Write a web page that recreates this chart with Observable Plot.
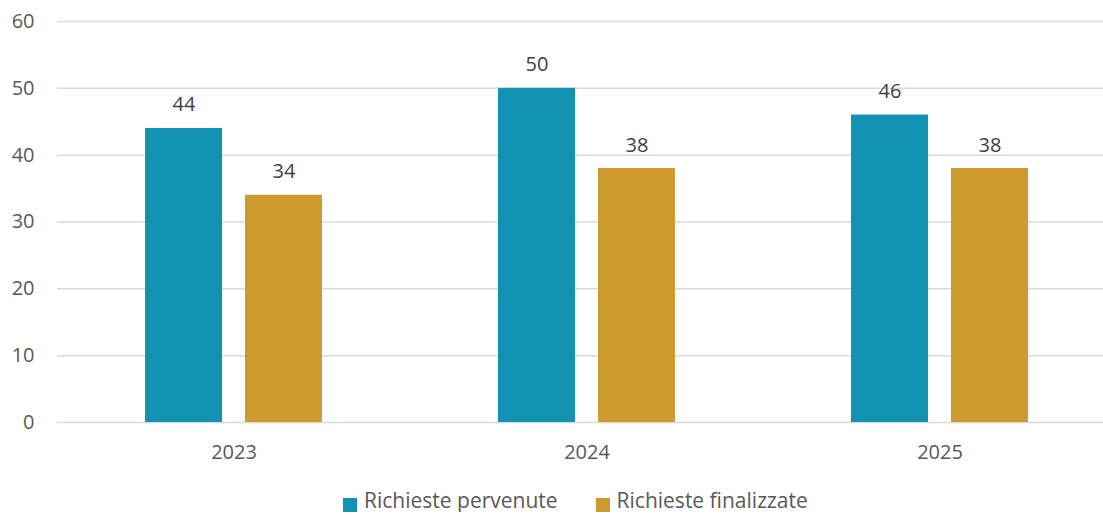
<!DOCTYPE html>
<html>
<head>
<meta charset="utf-8">
<script src="https://cdn.jsdelivr.net/npm/d3@7"></script>
<script src="https://cdn.jsdelivr.net/npm/@observablehq/plot@0.6"></script>
<style>
  html, body { margin: 0; padding: 0; background: #fff; overflow: hidden; }
  #chart svg { display: block; overflow: hidden; }
  .legend { display: flex; justify-content: flex-start; align-items: flex-start; width: 1103px;
    box-sizing: border-box; padding-left: 343px; margin-top: 10px;
    font-family: "Open Sans", sans-serif; font-size: 21px; line-height: 20px; color: #595959; }
  .legend .item { display: flex; align-items: flex-start; margin-right: 38px; }
  .legend .item:last-child { margin-right: 0; }
  .legend .sw { width: 14px; height: 14px; margin-top: 8px; margin-right: 7px; }
</style>
</head>
<body>
<div id="chart"></div>
<script>
const years = ["2023", "2024", "2025"];
const series = ["Richieste pervenute", "Richieste finalizzate"];
const pervenute = [44, 50, 46];
const finalizzate = [34, 38, 38];
const yTicks = [0, 10, 20, 30, 40, 50, 60];
const colors = ["#1192b3", "#cd9b2e"];

const data = [];
years.forEach((y, i) => {
  data.push({year: y, serie: series[0], value: pervenute[i]});
  data.push({year: y, serie: series[1], value: finalizzate[i]});
});

const plot = Plot.plot({
  width: 1103,
  height: 480,
  marginLeft: 57,
  marginRight: 0,
  marginTop: 21,
  marginBottom: 58,
  style: {fontFamily: "Open Sans, sans-serif", fontSize: "20px", color: "#595959", background: "#fff"},
  fx: {domain: years, range: [56.5, 1115.5], padding: 0, label: null, tickSize: 0, tickPadding: 22, axis: "bottom"},
  x: {domain: series, paddingInner: 0.23, paddingOuter: 0.87, axis: null},
  y: {domain: [0, 60], ticks: yTicks, label: null, tickSize: 0, tickPadding: 23, tickFormat: d3.format("d")},
  color: {domain: series, range: colors},
  marks: [
    Plot.ruleY(yTicks, {stroke: "#d9d9d9", strokeWidth: 1.5}),
    Plot.barY(data, {fx: "year", x: "serie", y: "value", fill: "serie"}),
    Plot.text(data, {fx: "year", x: "serie", y: "value", text: d => String(d.value),
      lineAnchor: "bottom", dy: -17, fill: "#404040", fontSize: 20})
  ]
});
document.getElementById("chart").appendChild(plot);

const legend = document.createElement("div");
legend.className = "legend";
series.forEach((s, i) => {
  const item = document.createElement("div");
  item.className = "item";
  const sw = document.createElement("div");
  sw.className = "sw";
  sw.style.background = colors[i];
  const lab = document.createElement("span");
  lab.textContent = s;
  item.appendChild(sw);
  item.appendChild(lab);
  legend.appendChild(item);
});
document.body.appendChild(legend);
</script>
</body>
</html>
